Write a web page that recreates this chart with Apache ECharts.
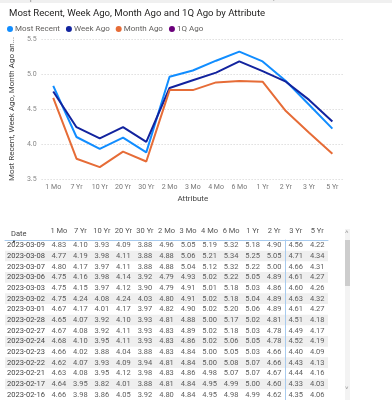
<!DOCTYPE html>
<html><head><meta charset="utf-8">
<script src="https://cdn.jsdelivr.net/npm/echarts@6/dist/echarts.min.js"></script>
<style>html,body{margin:0;padding:0;background:#fff}#c{width:392px;height:400px}</style>
</head><body><div id="c"></div>
<script>
const categories = ['1 Mo','7 Yr','10 Yr','20 Yr','30 Yr','2 Mo','3 Mo','4 Mo','6 Mo','1 Yr','2 Yr','3 Yr','5 Yr'];
const mostRecent = [4.83,4.10,3.93,4.09,3.88,4.96,5.05,5.19,5.32,5.18,4.90,4.56,4.22];
const weekAgo    = [4.75,4.24,4.08,4.24,4.03,4.80,4.91,5.02,5.18,5.04,4.89,4.63,4.32];
const monthAgo   = [4.66,3.79,3.67,3.89,3.75,4.77,4.77,4.88,4.90,4.89,4.47,4.16,3.86];
const quarterAgo = [];
const yMin = 3.5, yMax = 5.5, yStep = 0.5;

const tableDates = ['2023-03-09','2023-03-08','2023-03-07','2023-03-06','2023-03-03','2023-03-02','2023-03-01','2023-02-28','2023-02-27','2023-02-24','2023-02-23','2023-02-22','2023-02-21','2023-02-17','2023-02-16'];
const row0309 = [4.83,4.10,3.93,4.09,3.88,4.96,5.05,5.19,5.32,5.18,4.90,4.56,4.22];
const row0308 = [4.77,4.19,3.98,4.11,3.88,4.88,5.06,5.21,5.34,5.25,5.05,4.71,4.34];
const row0307 = [4.80,4.17,3.97,4.11,3.88,4.88,5.04,5.12,5.32,5.22,5.00,4.66,4.31];
const row0306 = [4.75,4.16,3.98,4.14,3.92,4.79,4.93,5.02,5.22,5.05,4.89,4.61,4.27];
const row0303 = [4.75,4.15,3.97,4.12,3.90,4.79,4.91,5.01,5.18,5.03,4.86,4.60,4.26];
const row0302 = [4.75,4.24,4.08,4.24,4.03,4.80,4.91,5.02,5.18,5.04,4.89,4.63,4.32];
const row0301 = [4.67,4.17,4.01,4.17,3.97,4.82,4.90,5.02,5.20,5.06,4.89,4.61,4.27];
const row0228 = [4.65,4.07,3.92,4.10,3.93,4.81,4.88,5.00,5.17,5.02,4.81,4.51,4.18];
const row0227 = [4.67,4.08,3.92,4.11,3.93,4.83,4.89,5.02,5.18,5.03,4.78,4.49,4.17];
const row0224 = [4.68,4.10,3.95,4.11,3.93,4.83,4.86,5.02,5.06,5.05,4.78,4.52,4.19];
const row0223 = [4.66,4.02,3.88,4.04,3.88,4.83,4.84,5.00,5.05,5.03,4.66,4.40,4.09];
const row0222 = [4.62,4.07,3.93,4.09,3.94,4.81,4.84,5.00,5.08,5.07,4.66,4.43,4.13];
const row0221 = [4.63,4.08,3.95,4.12,3.98,4.83,4.86,4.98,5.07,5.07,4.67,4.44,4.16];
const row0217 = [4.64,3.95,3.82,4.01,3.88,4.81,4.84,4.95,4.99,5.00,4.60,4.33,4.03];
const row0216 = [4.66,3.98,3.86,4.05,3.92,4.80,4.84,4.95,4.98,4.99,4.62,4.35,4.06];
const tableRows = [row0309,row0308,row0307,row0306,row0303,row0302,row0301,row0228,row0227,row0224,row0223,row0222,row0221,row0217,row0216];

const FONT = 'Roboto, "Segoe UI", sans-serif';
const tableCols = ['\u200b', '\u200b\u200b'].concat(categories);
const tableData = [];
tableRows.forEach((r, ri) => r.forEach((v, ci) => tableData.push([ci + 2, ri, v])));

const chart = echarts.init(document.getElementById('c'), null, {renderer: 'canvas'});
const lineSeries = (name, data, color) => ({
  name, type: 'line', data, xAxisIndex: 0, yAxisIndex: 0,
  symbol: 'none', lineStyle: {width: 2, color}, itemStyle: {color},
  silent: true, animation: false
});
chart.setOption({
  animation: false,
  title: [
    {text: 'Most Recent, Week Ago, Month Ago and 1Q Ago by Attribute', left: 4, top: 4,
     textStyle: {fontFamily: FONT, fontSize: 9.6, fontWeight: 'normal', color: '#252423'}},
    {text: 'Date', left: 6, top: 225, textStyle: {fontFamily: FONT, fontSize: 7.5, fontWeight: 'normal', color: '#444'}},
    {text: '▼', left: 7, top: 235, textStyle: {fontFamily: FONT, fontSize: 4, fontWeight: 'normal', color: '#222'}}
  ],
  legend: {
    left: 2, top: 20, icon: 'circle', itemWidth: 6, itemHeight: 6, itemGap: 6,
    textStyle: {fontFamily: FONT, fontSize: 8, color: '#605E5C', padding: [0, 0, 0, -3]},
    data: ['Most Recent', 'Week Ago', 'Month Ago', '1Q Ago']
  },
  grid: [
    {left: 29, right: 48, top: 39, height: 140},
    {left: 5, right: 64, top: 240, height: 160}
  ],
  xAxis: [
    {type: 'category', gridIndex: 0, data: categories,
     name: 'Attribute', nameLocation: 'middle', nameGap: 16,
     nameTextStyle: {fontFamily: FONT, fontSize: 8, color: '#444'},
     axisLine: {show: false}, axisTick: {show: false},
     axisLabel: {fontFamily: FONT, fontSize: 7, color: '#777', margin: 5, interval: 0}},
    {type: 'category', gridIndex: 1, data: tableCols, position: 'top',
     axisLine: {show: true, lineStyle: {color: '#a8cbee', width: 1}}, axisTick: {show: false},
     axisLabel: {fontFamily: FONT, fontSize: 7.5, color: '#555', margin: 5, interval: 0},
     splitLine: {show: false}}
  ],
  yAxis: [
    {type: 'value', gridIndex: 0, min: yMin, max: yMax, interval: yStep,
     name: 'Most Recent, Week Ago, Month Ago and 1Q Ago', nameLocation: 'middle', nameGap: 16,
     nameTruncate: {maxWidth: 146, ellipsis: '...'},
     nameTextStyle: {fontFamily: FONT, fontSize: 8, color: '#444'},
     axisLine: {show: false}, axisTick: {show: false},
     axisLabel: {fontFamily: FONT, fontSize: 7, color: '#888', margin: 5, formatter: v => v.toFixed(1)},
     splitLine: {lineStyle: {type: [1, 2], color: '#cfcfcf', width: 1}}},
    {type: 'category', gridIndex: 1, data: tableDates, inverse: true,
     axisLine: {show: false}, axisTick: {show: false},
     axisLabel: {inside: true, margin: 2, fontFamily: FONT, fontSize: 7.5, color: '#444', interval: 0},
     splitLine: {show: false},
     splitArea: {show: true, interval: 0, areaStyle: {color: ['rgba(255,255,255,0)', '#efefef']}}},
    {type: 'category', gridIndex: 1, data: tableDates, inverse: true, offset: -43,
     axisLine: {show: true, lineStyle: {color: '#a8cbee', width: 1}}, axisTick: {show: false},
     axisLabel: {show: false}, splitLine: {show: false}, splitArea: {show: false}}
  ],
  series: [
    lineSeries('Most Recent', mostRecent, '#118DFF'),
    lineSeries('Week Ago', weekAgo, '#12239E'),
    lineSeries('Month Ago', monthAgo, '#E66C37'),
    lineSeries('1Q Ago', quarterAgo, '#6B007B'),
    {type: 'scatter', xAxisIndex: 1, yAxisIndex: 1, data: tableData, symbolSize: 0, silent: true,
     label: {show: true, position: 'inside', formatter: p => p.value[2].toFixed(2),
             fontFamily: FONT, fontSize: 7.5, color: '#333'}}
  ],
  graphic: [
    {type: 'rect', left: 0, top: 0, shape: {width: 392, height: 3}, style: {fill: '#f0f0f0'}, silent: true},
    {type: 'text', left: 22, top: -5, style: {text: 'Clipboard', fontSize: 7, fill: '#777', fontFamily: FONT}, silent: true},
    {type: 'text', left: 148, top: -5, style: {text: 'Data', fontSize: 7, fill: '#777', fontFamily: FONT}, silent: true},
    {type: 'text', left: 270, top: -5, style: {text: 'Queries', fontSize: 7, fill: '#777', fontFamily: FONT}, silent: true},
    {type: 'text', left: 354, top: -5, style: {text: 'Insert', fontSize: 7, fill: '#777', fontFamily: FONT}, silent: true},
    {type: 'rect', left: 345, top: 229, shape: {width: 5, height: 171}, style: {fill: '#f3f3f3'}, silent: true},
    {type: 'rect', left: 345, top: 240, shape: {width: 5, height: 46}, style: {fill: '#cdcdcd'}, silent: true},
    {type: 'text', left: 345, top: 229, style: {text: '˄', fontSize: 6, fill: '#888', fontFamily: FONT}, silent: true},
    {type: 'text', left: 345, top: 385, style: {text: '˅', fontSize: 6, fill: '#888', fontFamily: FONT}, silent: true}
  ]
});
</script></body></html>
